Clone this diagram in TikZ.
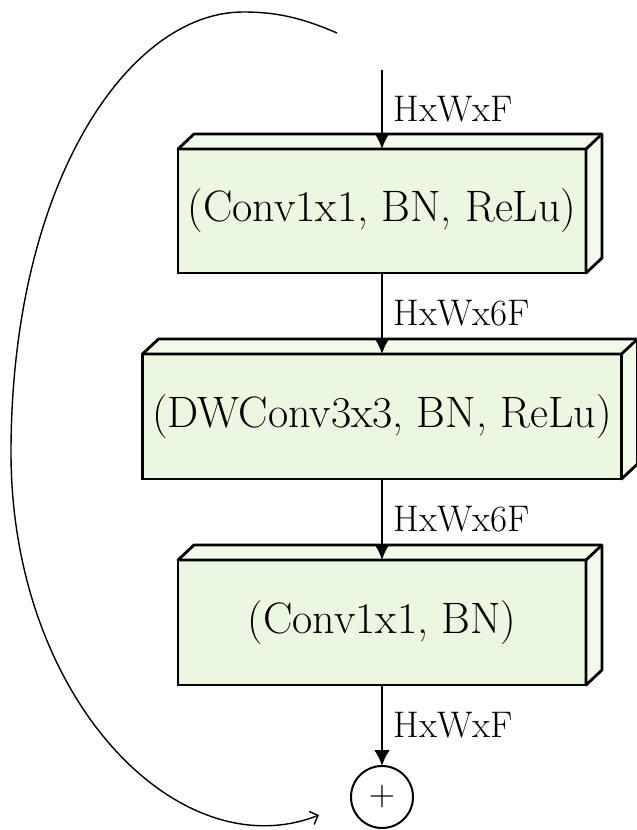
\documentclass[tikz,border=0pt]{standalone}
\usepackage{tikz}
\usetikzlibrary{arrows.meta, positioning, calc}
\definecolor{LayerGreen}{HTML}{EBF7E0}
\definecolor{LayerSide}{HTML}{F2FAEC}

\begin{document}
\begin{tikzpicture}[x=0.5pt, y=-0.5pt,
        layer/.style={draw, line width=1.4pt, fill=LayerGreen, inner sep=0pt, outer sep=0pt, font=\fontsize{22}{26}\selectfont},
        face/.style={draw, line width=1.4pt, fill=LayerSide, line join=round},
        flow/.style={line width=1.3pt, -{Latex[length=8pt, width=8pt]}},
        dims/.style={anchor=west, xshift=2pt, font=\fontsize{18.5}{22}\selectfont},
        shortcut/.style={line width=0.7pt, -{Straight Barb[length=3.5pt, width=7pt]}}]
    \useasboundingbox (0,0) rectangle (637,830);
    \node[layer, minimum width=204pt, minimum height=62pt] (expand) at (382,211) {(Conv1x1, BN, ReLu)};
    \node[layer, minimum width=239.5pt, minimum height=62.5pt] (depthwise) at (382,416.5) {(DWConv3x3, BN, ReLu)};
    \node[layer, minimum width=204pt, minimum height=62.5pt] (project) at (382,622.5) {(Conv1x1, BN)};
    \foreach \blk in {expand, depthwise, project} {
        \draw[face] (\blk.north west) -- ++(16,-15) -- ($(\blk.north east)+(16,-15)$) -- ($(\blk.south east)+(16,-15)$) -- (\blk.south east) -- (\blk.north east) -- cycle;
        \draw[face] (\blk.north east) -- ++(16,-15);
    }
    \node[draw, circle, line width=1pt, minimum size=31pt, inner sep=0pt, outer sep=0pt, font=\fontsize{18}{21}\selectfont] (add) at (382,797) {+};
    \coordinate (input) at (382,70);
    \draw[flow] (input) -- (expand.north) node[dims, midway] {HxWxF};
    \draw[flow] (expand.south) -- (depthwise.north) node[dims, midway] {HxWx6F};
    \draw[flow] (depthwise.south) -- (project.north) node[dims, midway] {HxWx6F};
    \draw[flow] (project.south) -- (add.north) node[dims, midway] {HxWxF};
    \coordinate (skipfrom) at (337,33);
    \coordinate (skipto) at (319,815);
    \draw[shortcut] (skipfrom) .. controls (300,17) and (275,12) .. (243,12) .. controls (130,12) and (12,180) .. (11,450) .. controls (10,700) and (180,870) .. (skipto);
\end{tikzpicture}
\end{document}
